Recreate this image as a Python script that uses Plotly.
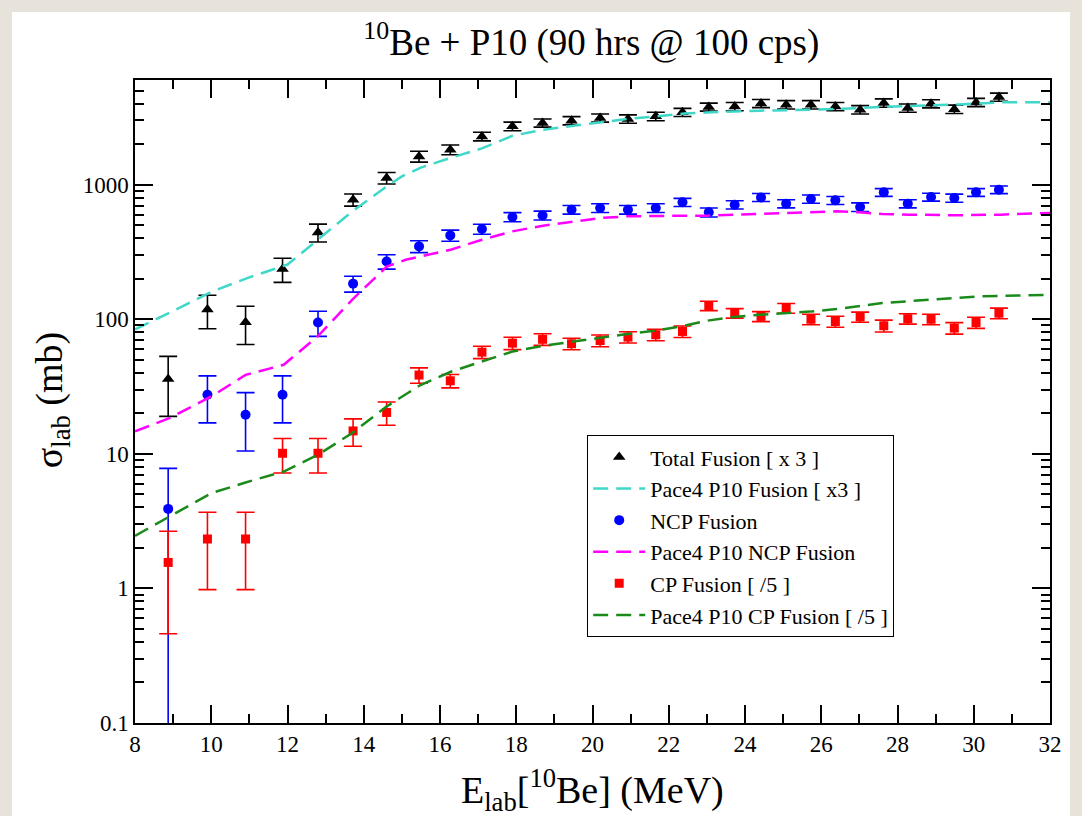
import plotly.graph_objects as go

# ---------------- data ----------------
E = [8.87, 9.9, 10.9, 11.87, 12.8, 13.72, 14.6, 15.45, 16.27, 17.1, 17.9, 18.69, 19.45, 20.2, 20.93,
     21.66, 22.36, 23.05, 23.73, 24.42, 25.08, 25.73, 26.37, 27.02, 27.64, 28.27, 28.88, 29.49, 30.06, 30.66]

total = [36, 118, 95, 236, 442, 773, 1122, 1622, 1820, 2285, 2718, 2877, 2993, 3135, 3080,
         3220, 3450, 3780, 3815, 4020, 3935, 3935, 3815, 3610, 4050, 3715, 4000, 3640, 4090, 4480]
total_err = [17, 33, 30, 48, 67, 80, 110, 150, 150, 170, 200, 200, 210, 220, 220,
             230, 240, 260, 270, 280, 280, 280, 270, 260, 290, 260, 280, 260, 290, 310]

ncp = [3.9, 27.5, 19.5, 27.5, 94.6, 184, 269, 348, 420, 468, 575, 591, 652, 671, 652,
       671, 740, 624, 710, 805, 723, 783, 765, 683, 877, 723, 810, 796, 877, 918]
ncp_err = [3.9, 10.5, 9, 10.5, 20, 25, 33, 35, 40, 40, 45, 45, 48, 50, 48,
           50, 52, 48, 50, 55, 50, 55, 52, 50, 58, 50, 55, 55, 58, 60]

cp = [1.56, 2.33, 2.33, 10.1, 10.1, 14.8, 20.3, 38.5, 34.9, 57, 66.5, 71, 65.8, 69.5, 73.7,
      76.7, 81.2, 126, 111, 105, 121, 100, 96.3, 104, 89.5, 101, 100, 86, 94.6, 111]
cp_err = [1.1, 1.35, 1.35, 2.9, 2.9, 3.4, 4, 5, 4, 6, 7, 7, 6.5, 7, 7,
          7.5, 8, 10, 9, 9, 10, 9, 9, 9, 9, 9, 9, 8.5, 9, 10]

pace_tot_x = [8, 9, 10, 11, 12, 12.8, 13.7, 14.6, 15.0, 15.5, 16.3, 17.1, 17.9, 18.7, 19.5, 20.2,
              20.9, 21.7, 22.4, 23.0, 23.7, 24.4, 25.1, 26.4, 27.6, 28.9, 29.6, 30.7, 32]
pace_tot = [84, 115, 160, 205, 255, 390, 633, 971, 1153, 1340, 1590, 1860, 2310, 2560, 2745, 2906,
            3080, 3220, 3375, 3440, 3510, 3550, 3580, 3650, 3780, 3865, 3950, 4090, 4100]

pace_ncp_x = [8, 8.9, 10, 10.9, 11.9, 12.8, 13.7, 14.6, 15.1, 16.0, 16.3, 17.1, 17.9, 18.7, 19.5,
              20.2, 20.9, 21.7, 22.4, 23.0, 23.7, 24.4, 25.1, 25.7, 26.4, 27.0, 27.6, 28.3, 29.5, 30.7, 32]
pace_ncp = [14.7, 18.4, 26.7, 38.6, 45.9, 75, 140, 246, 277, 313, 330, 390, 450, 496, 534,
            565, 582, 589, 589, 589, 599, 606, 617, 624, 634, 624, 606, 599, 593, 599, 617]

pace_cp_x = [8, 8.9, 10, 10.9, 11.9, 12.8, 13.7, 14.6, 15.5, 16.3, 17.1, 17.9, 18.7, 19.5, 20.2,
             20.9, 21.7, 22.4, 23.0, 23.7, 24.4, 25.1, 25.7, 26.4, 27.6, 28.9, 30.2, 32]
pace_cp = [2.46, 3.42, 5.1, 6.13, 7.39, 9.84, 14.3, 22.5, 32.6, 40.9, 48.5, 57.6, 63.5, 68.4, 73.2,
           77.6, 82.6, 89.5, 97.5, 104, 108, 111, 114, 119, 132, 140, 148, 152]

y_major = [0.1, 1, 10, 100, 1000]
y_minor = [m * d for d in [0.1, 1, 10, 100] for m in range(2, 10)] + [2000, 3000, 4000, 5000, 6000]
x_major = list(range(8, 33, 2))
x_minor = list(range(9, 32, 2))

SERIF = "Liberation Serif"
DASH = "15px,8px"

fig = go.Figure()

fig.add_trace(go.Scatter(
    x=E, y=total, mode="markers", name="Total Fusion [ x 3 ]",
    marker=dict(symbol="triangle-up", size=11, color="black"),
    error_y=dict(type="data", array=total_err, color="black", thickness=1.6, width=9)))
fig.add_trace(go.Scatter(
    x=pace_tot_x, y=pace_tot, mode="lines", name="Pace4 P10 Fusion [ x3 ]",
    line=dict(color="#3fd8c8", width=2.5, dash=DASH)))
fig.add_trace(go.Scatter(
    x=E, y=ncp, mode="markers", name="NCP Fusion",
    marker=dict(symbol="circle", size=10, color="#0000ff"),
    error_y=dict(type="data", array=ncp_err, color="#0000ff", thickness=1.6, width=9)))
fig.add_trace(go.Scatter(
    x=pace_ncp_x, y=pace_ncp, mode="lines", name="Pace4 P10 NCP Fusion",
    line=dict(color="#ff00ff", width=2.5, dash=DASH)))
fig.add_trace(go.Scatter(
    x=E, y=cp, mode="markers", name="CP Fusion [ /5 ]",
    marker=dict(symbol="square", size=9, color="#ff0000"),
    error_y=dict(type="data", array=cp_err, color="#ff0000", thickness=1.6, width=9)))
fig.add_trace(go.Scatter(
    x=pace_cp_x, y=pace_cp, mode="lines", name="Pace4 P10 CP Fusion [ /5 ]",
    line=dict(color="#1a8a1a", width=2.5, dash=DASH)))

axis_common = dict(
    showline=True, linecolor="black", linewidth=1.5, mirror="allticks",
    ticks="inside", ticklen=18, tickwidth=1.5, tickcolor="black",
    showgrid=False, zeroline=False,
    tickfont=dict(family=SERIF, size=23, color="black"),
)

fig.update_xaxes(
    range=[8, 32], tickmode="array", tickvals=x_major, ticktext=[str(v) for v in x_major],
    minor=dict(tickmode="array", tickvals=x_minor, ticks="inside", ticklen=9,
               tickwidth=1.5, tickcolor="black", showgrid=False),
    **axis_common)
fig.update_yaxes(
    type="log", range=[-1, 3.778], tickmode="array", tickvals=y_major,
    ticktext=["0.1", "1", "10", "100", "1000"],
    minor=dict(tickmode="array", tickvals=y_minor, ticks="inside", ticklen=9,
               tickwidth=1.5, tickcolor="black", showgrid=False),
    **axis_common)

fig.update_layout(
    width=1082, height=816,
    margin=dict(l=135, r=32, t=80, b=93),
    paper_bgcolor="#e7e3da", plot_bgcolor="white",
    font=dict(family=SERIF, color="black"),
    showlegend=True,
    legend=dict(x=0.494, y=0.448, xanchor="left", yanchor="top",
                bgcolor="white", bordercolor="black", borderwidth=1.2,
                font=dict(family=SERIF, size=22, color="black"),
                itemwidth=52, tracegroupgap=0),
    title=dict(text="<sup>10</sup>Be + P10 (90 hrs @ 100 cps)", x=0.5465, xanchor="center",
               y=1 - 42 / 816, yanchor="middle",
               font=dict(family=SERIF, size=37, color="black")),
    shapes=[dict(type="rect", xref="paper", yref="paper", x0=-0.1344, x1=1.0219,
                 y0=-0.1446, y1=1.1058, fillcolor="white", line=dict(width=0), layer="below")],
    annotations=[
        dict(text="E<sub>lab</sub>[<sup>10</sup>Be] (MeV)", xref="paper", yref="paper",
             x=0.5, y=-0.104, xanchor="center", yanchor="middle", showarrow=False,
             font=dict(family=SERIF, size=38, color="black")),
        dict(text="σ<sub>lab</sub> (mb)", xref="paper", yref="paper", textangle=-90,
             x=-0.0907, y=0.502, xanchor="center", yanchor="middle", showarrow=False,
             font=dict(family=SERIF, size=38, color="black")),
    ],
)

fig.write_html("out.html")
